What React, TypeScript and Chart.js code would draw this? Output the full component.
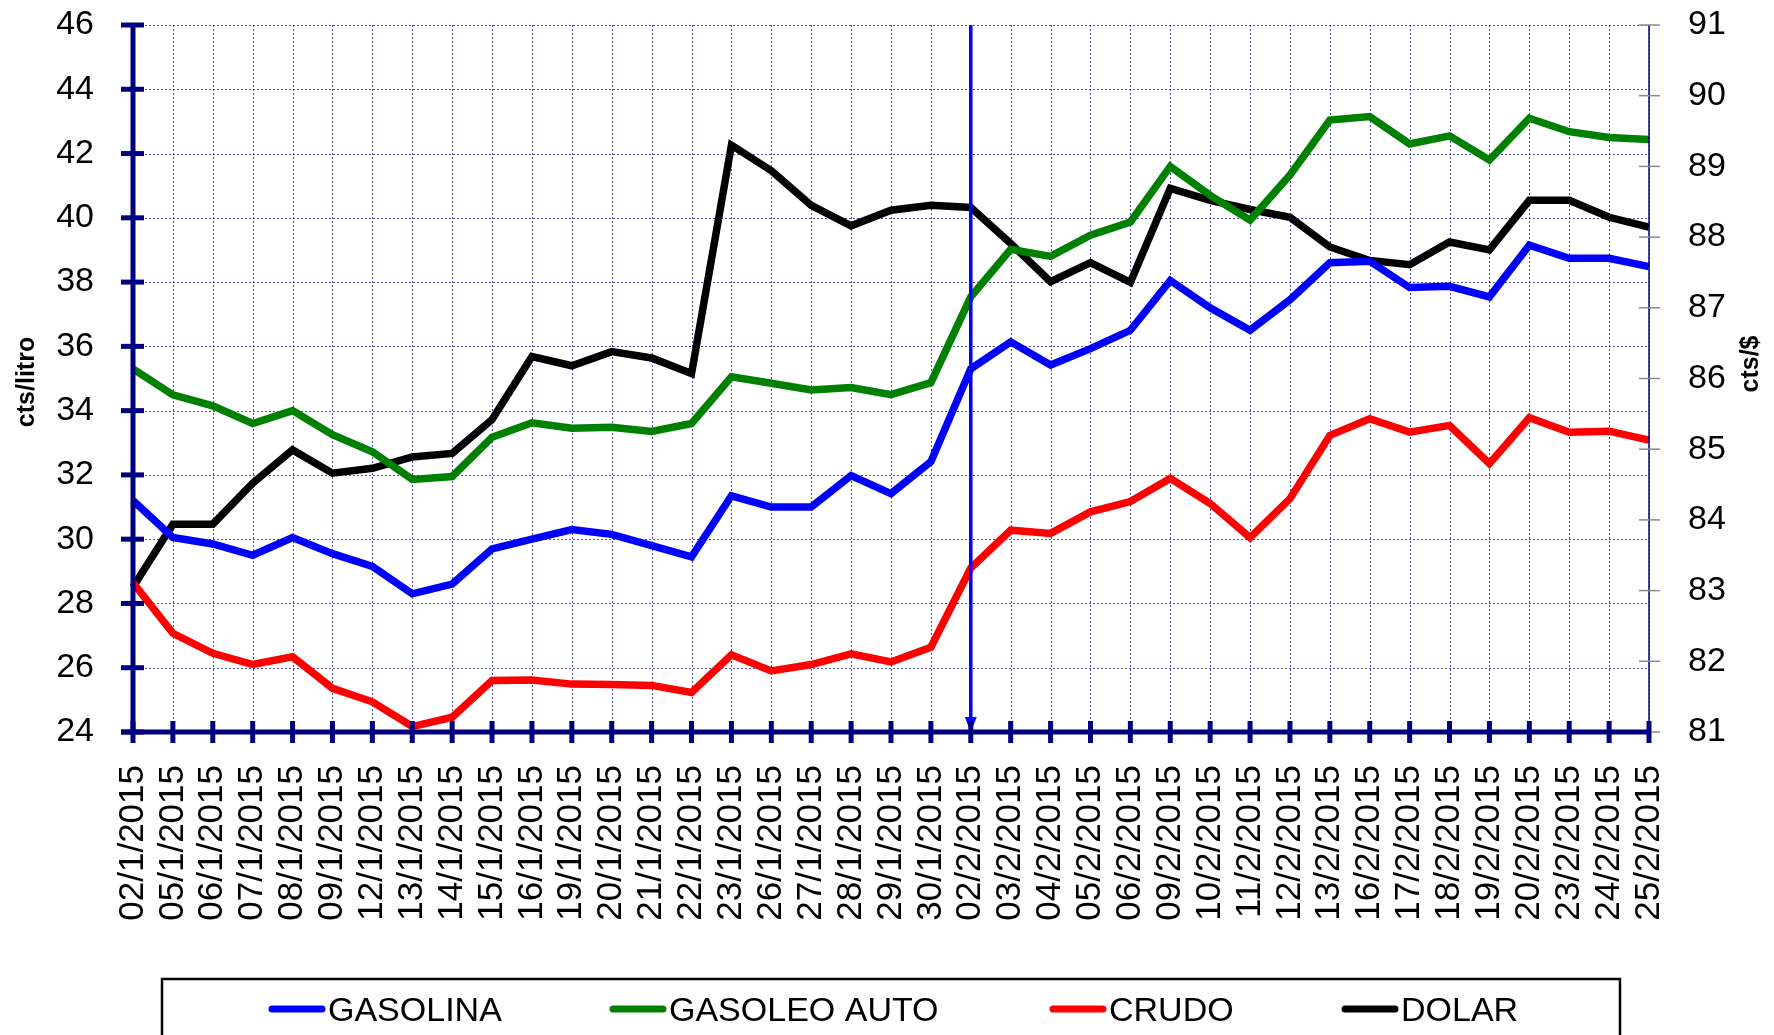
import React, { useEffect, useRef } from "react";
import { Chart, registerables } from "chart.js";

Chart.register(...registerables);

const FONT = '"Liberation Sans", Arial, Helvetica, sans-serif';

const categories = [
  "02/1/2015", "05/1/2015", "06/1/2015", "07/1/2015", "08/1/2015", "09/1/2015",
  "12/1/2015", "13/1/2015", "14/1/2015", "15/1/2015", "16/1/2015", "19/1/2015",
  "20/1/2015", "21/1/2015", "22/1/2015", "23/1/2015", "26/1/2015", "27/1/2015",
  "28/1/2015", "29/1/2015", "30/1/2015", "02/2/2015", "03/2/2015", "04/2/2015",
  "05/2/2015", "06/2/2015", "09/2/2015", "10/2/2015", "11/2/2015", "12/2/2015",
  "13/2/2015", "16/2/2015", "17/2/2015", "18/2/2015", "19/2/2015", "20/2/2015",
  "23/2/2015", "24/2/2015", "25/2/2015",
];

const gasolina = [
  31.2, 30.05, 29.85, 29.5, 30.05, 29.55, 29.15, 28.3, 28.6, 29.7, 30.0, 30.3,
  30.15, 29.8, 29.45, 31.35, 31.0, 31.0, 31.98, 31.42, 32.41, 35.3, 36.14, 35.42,
  35.93, 36.5, 38.05, 37.2, 36.5, 37.45, 38.6, 38.65, 37.83, 37.87, 37.54, 39.15,
  38.74, 38.74, 38.48,
];

const gasoleoAuto = [
  35.3, 34.49, 34.15, 33.6, 34.0, 33.25, 32.72, 31.86, 31.95, 33.17, 33.62, 33.45,
  33.48, 33.35, 33.6, 35.05, 34.85, 34.64, 34.72, 34.5, 34.87, 37.54, 39.02, 38.8,
  39.46, 39.87, 41.6, 40.7, 39.93, 41.33, 43.04, 43.15, 42.3, 42.55, 41.8, 43.1,
  42.68, 42.5, 42.44,
];

const crudo = [
  28.65, 27.07, 26.45, 26.1, 26.34, 25.36, 24.94, 24.17, 24.46, 25.6, 25.62, 25.49,
  25.48, 25.45, 25.23, 26.4, 25.9, 26.1, 26.43, 26.18, 26.64, 29.1, 30.28, 30.18,
  30.85, 31.17, 31.89, 31.11, 30.05, 31.26, 33.23, 33.75, 33.33, 33.54, 32.35, 33.78,
  33.33, 33.36, 33.08,
];

const dolar = [
  83.05, 83.94, 83.94, 84.52, 84.99, 84.66, 84.73, 84.89, 84.94, 85.42, 86.31, 86.18,
  86.38, 86.29, 86.07, 89.3, 88.94, 88.45, 88.16, 88.38, 88.45, 88.42, 87.91, 87.37,
  87.64, 87.36, 88.69, 88.52, 88.39, 88.28, 87.86, 87.67, 87.61, 87.93, 87.82, 88.52,
  88.52, 88.28, 88.14,
];

const leftAxis = { min: 24, max: 46, step: 2, title: "cts/litro" };
const rightAxis = { min: 81, max: 91, step: 1, title: "cts/$" };
const markerCategory = "02/2/2015";

const NAVY = "#000080";

const decorPlugin = {
  id: "decor",
  beforeDatasetsDraw(chart: any) {
    const { ctx, chartArea } = chart;
    const { left, right, top, bottom } = chartArea;
    const xs = chart.scales.x;
    const ys = chart.scales.y;
    ctx.save();
    ctx.strokeStyle = "rgba(20,20,150,0.75)";
    ctx.lineWidth = 1;
    ctx.setLineDash([2, 2]);
    xs.ticks.forEach((_t: any, i: number) => {
      const px = Math.round(xs.getPixelForTick(i)) + 0.5;
      ctx.beginPath();
      ctx.moveTo(px, top);
      ctx.lineTo(px, bottom);
      ctx.stroke();
    });
    ys.ticks.forEach((t: any) => {
      const py = Math.round(ys.getPixelForValue(t.value)) + 0.5;
      ctx.beginPath();
      ctx.moveTo(left, py);
      ctx.lineTo(right, py);
      ctx.stroke();
    });
    ctx.restore();
  },
  afterDatasetsDraw(chart: any) {
    const { ctx, chartArea } = chart;
    const { left, right, top, bottom } = chartArea;
    const xs = chart.scales.x;
    const ys = chart.scales.y;
    const y1 = chart.scales.y1;
    ctx.save();

    // marker vertical line with arrow
    const mi = categories.indexOf(markerCategory);
    const mx = xs.getPixelForValue(mi);
    ctx.strokeStyle = "#0000FF";
    ctx.fillStyle = "#0000FF";
    ctx.lineWidth = 3.5;
    ctx.beginPath();
    ctx.moveTo(mx, top);
    ctx.lineTo(mx, bottom - 12);
    ctx.stroke();
    ctx.beginPath();
    ctx.moveTo(mx - 6, bottom - 15);
    ctx.lineTo(mx + 6, bottom - 15);
    ctx.lineTo(mx, bottom);
    ctx.closePath();
    ctx.fill();

    // right axis
    ctx.strokeStyle = NAVY;
    ctx.lineWidth = 1.5;
    ctx.beginPath();
    ctx.moveTo(right, top);
    ctx.lineTo(right, bottom);
    ctx.stroke();
    ctx.strokeStyle = "#8a8a8a";
    ctx.lineWidth = 1.5;
    y1.ticks.forEach((t: any) => {
      const py = y1.getPixelForValue(t.value);
      ctx.beginPath();
      ctx.moveTo(right - 10, py);
      ctx.lineTo(right + 11, py);
      ctx.stroke();
    });

    // left axis
    ctx.strokeStyle = NAVY;
    ctx.lineWidth = 5;
    ctx.beginPath();
    ctx.moveTo(left, top - 2);
    ctx.lineTo(left, bottom);
    ctx.stroke();
    ys.ticks.forEach((t: any) => {
      const py = ys.getPixelForValue(t.value);
      ctx.beginPath();
      ctx.moveTo(left - 12, py);
      ctx.lineTo(left + 11, py);
      ctx.stroke();
    });

    // bottom axis
    ctx.beginPath();
    ctx.moveTo(left - 12, bottom);
    ctx.lineTo(right, bottom);
    ctx.stroke();
    xs.ticks.forEach((_t: any, i: number) => {
      const px = xs.getPixelForTick(i);
      ctx.beginPath();
      ctx.moveTo(px, bottom - 11);
      ctx.lineTo(px, bottom + 11);
      ctx.stroke();
    });

    // axis titles
    ctx.fillStyle = "#000";
    ctx.font = `bold 25px ${FONT}`;
    ctx.textAlign = "center";
    ctx.textBaseline = "middle";
    ctx.save();
    ctx.translate(27, 382);
    ctx.rotate(-Math.PI / 2);
    ctx.fillText(leftAxis.title, 0, 0);
    ctx.restore();
    ctx.save();
    ctx.translate(1751, 364);
    ctx.rotate(-Math.PI / 2);
    ctx.fillText(rightAxis.title, 0, 0);
    ctx.restore();

    // legend
    const lg = chart.options.plugins.decor;
    ctx.strokeStyle = "#000";
    ctx.lineWidth = 2.5;
    ctx.strokeRect(lg.box.x, lg.box.y, lg.box.w, lg.box.h);
    ctx.font = `34px ${FONT}`;
    ctx.textAlign = "left";
    ctx.textBaseline = "alphabetic";
    chart.data.datasets.forEach((ds: any, i: number) => {
      const x0 = lg.itemX[i];
      ctx.strokeStyle = ds.borderColor;
      ctx.lineWidth = 7;
      ctx.lineCap = "round";
      ctx.beginPath();
      ctx.moveTo(x0 + 4, lg.lineY);
      ctx.lineTo(x0 + 54, lg.lineY);
      ctx.stroke();
      ctx.fillStyle = "#000";
      ctx.fillText(ds.label, x0 + 60, lg.textY);
    });
    ctx.restore();
  },
};

const zeroVPad = (w: number) => (s: any) => {
  s.width = w;
  s.paddingTop = 0;
  s.paddingBottom = 0;
};

export default function App() {
  const ref = useRef<HTMLCanvasElement>(null);
  useEffect(() => {
    document.body.style.margin = "0";
    const canvas = ref.current!;
    const chart = new Chart(canvas, {
      type: "line",
      data: {
        labels: categories,
        datasets: [
          { label: "GASOLINA", data: gasolina, borderColor: "#0000FF", yAxisID: "y" },
          { label: "GASOLEO AUTO", data: gasoleoAuto, borderColor: "#008000", yAxisID: "y" },
          { label: "CRUDO", data: crudo, borderColor: "#FF0000", yAxisID: "y" },
          { label: "DOLAR", data: dolar, borderColor: "#000000", yAxisID: "y1" },
        ],
      },
      options: {
        responsive: false,
        animation: false,
        devicePixelRatio: 1,
        layout: { padding: { top: 25, left: 0, right: 0, bottom: 0 } },
        elements: {
          line: { borderWidth: 7.5, tension: 0, fill: false, borderJoinStyle: "miter" },
          point: { radius: 0, hoverRadius: 0 },
        },
        plugins: {
          legend: { display: false },
          tooltip: { enabled: false },
          decor: {
            box: { x: 162, y: 979, w: 1458, h: 70 },
            itemX: [268, 609, 1049, 1341],
            lineY: 1009,
            textY: 1021,
          },
        } as any,
        scales: {
          x: {
            type: "category",
            offset: false,
            grid: { display: false },
            border: { display: false },
            afterFit: (s: any) => {
              s.height = 303;
              s.paddingLeft = 0;
              s.paddingRight = 0;
            },
            ticks: {
              autoSkip: false,
              minRotation: 90,
              maxRotation: 90,
              padding: 25,
              color: "#000",
              font: { family: FONT, size: 35 },
            },
          },
          y: {
            position: "left",
            min: leftAxis.min,
            max: leftAxis.max,
            grid: { display: false },
            border: { display: false },
            afterFit: zeroVPad(133),
            ticks: {
              stepSize: leftAxis.step,
              padding: 31,
              color: "#000",
              font: { family: FONT, size: 34 },
            },
          },
          y1: {
            position: "right",
            min: rightAxis.min,
            max: rightAxis.max,
            grid: { display: false },
            border: { display: false },
            afterFit: zeroVPad(125),
            ticks: {
              stepSize: rightAxis.step,
              padding: 31,
              color: "#000",
              font: { family: FONT, size: 34 },
            },
          },
        },
      },
      plugins: [decorPlugin],
    } as any);
    return () => chart.destroy();
  }, []);
  return (
    <div style={{ position: "absolute", left: 0, top: 0, width: 1774, height: 1035, background: "#fff" }}>
      <canvas ref={ref} width={1774} height={1035} style={{ width: 1774, height: 1035, display: "block" }} />
    </div>
  );
}
